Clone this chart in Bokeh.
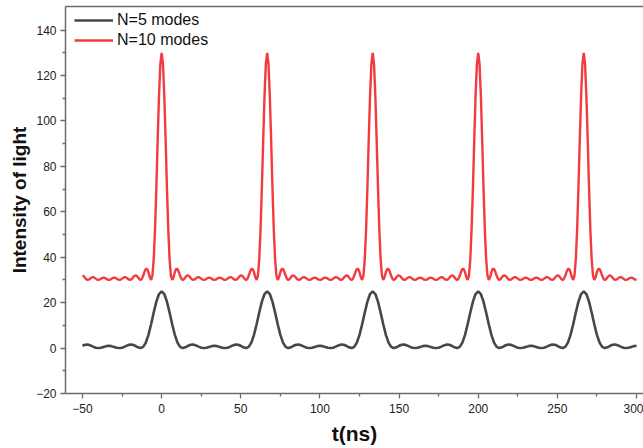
from bokeh.plotting import figure
from bokeh.models import Range1d, FixedTicker, Legend, LegendItem, LinearAxis
from bokeh.embed import file_html
from bokeh.resources import INLINE

# time axis for the N=5 curve (ns)
t5_ns = [
    -50, -48.33, -46.67, -45, -43.33, -41.67, -40, -38.33, -36.67, -35, -33.33, -31.67,
    -30, -28.33, -26.67, -25, -23.33, -21.67, -20, -18.33, -16.67, -15, -13.33, -11.67,
    -10, -8.33, -6.67, -5, -3.33, -1.67,
    0, 1.67, 3.33, 5, 6.67, 8.33, 10, 11.67, 13.33, 15, 16.67, 18.33, 20, 21.67, 23.33,
    25, 26.67, 28.33, 30, 31.67, 33.33, 35, 36.67, 38.33, 40, 41.67, 43.33, 45, 46.67, 48.33,
    50, 51.67, 53.33, 55, 56.67, 58.33, 60, 61.67, 63.33, 65,
    66.67, 68.33, 70, 71.67, 73.33, 75, 76.67, 78.33, 80, 81.67, 83.33, 85, 86.67, 88.33,
    90, 91.67, 93.33, 95, 96.67, 98.33, 100, 101.67, 103.33, 105, 106.67, 108.33, 110, 111.67,
    113.33, 115, 116.67, 118.33, 120, 121.67, 123.33, 125, 126.67, 128.33, 130, 131.67,
    133.33, 135, 136.67, 138.33, 140, 141.67, 143.33, 145, 146.67, 148.33, 150, 151.67,
    153.33, 155, 156.67, 158.33, 160, 161.67, 163.33, 165, 166.67, 168.33, 170, 171.67,
    173.33, 175, 176.67, 178.33, 180, 181.67, 183.33, 185, 186.67, 188.33, 190, 191.67,
    193.33, 195, 196.67, 198.33,
    200, 201.67, 203.33, 205, 206.67, 208.33, 210, 211.67, 213.33, 215, 216.67, 218.33,
    220, 221.67, 223.33, 225, 226.67, 228.33, 230, 231.67, 233.33, 235, 236.67, 238.33,
    240, 241.67, 243.33, 245, 246.67, 248.33, 250, 251.67, 253.33, 255, 256.67, 258.33,
    260, 261.67, 263.33, 265,
    266.67, 268.33, 270, 271.67, 273.33, 275, 276.67, 278.33, 280, 281.67, 283.33, 285,
    286.67, 288.33, 290, 291.67, 293.33, 295, 296.67, 298.33, 300,
]

# N = 5 modes intensity
n5_intensity = [
    1.0, 1.48, 1.53, 1.17, 0.63, 0.17, 0, 0.15, 0.51, 0.86, 1.0, 0.86, 0.51, 0.15, 0, 0.17,
    0.63, 1.17, 1.53, 1.48, 1.0, 0.35, 0, 0.54, 2.43, 5.83, 10.47, 15.66, 20.43, 23.79,
    25, 23.79, 20.43, 15.66, 10.47, 5.83, 2.43, 0.54, 0, 0.35, 1.0, 1.48, 1.53, 1.17, 0.63, 0.17,
    0, 0.15, 0.51, 0.86, 1.0, 0.86, 0.51, 0.15, 0, 0.17, 0.63, 1.17, 1.53, 1.48, 1.0, 0.35,
    0, 0.54, 2.43, 5.83, 10.47, 15.66, 20.43, 23.79,
    25, 23.79, 20.43, 15.66, 10.47, 5.83, 2.43, 0.54, 0, 0.35, 1.0, 1.48, 1.53, 1.17, 0.63, 0.17,
    0, 0.15, 0.51, 0.86, 1.0, 0.86, 0.51, 0.15, 0, 0.17, 0.63, 1.17, 1.53, 1.48, 1.0, 0.35,
    0, 0.54, 2.43, 5.83, 10.47, 15.66, 20.43, 23.79,
    25, 23.79, 20.43, 15.66, 10.47, 5.83, 2.43, 0.54, 0, 0.35, 1.0, 1.48, 1.53, 1.17, 0.63, 0.17,
    0, 0.15, 0.51, 0.86, 1.0, 0.86, 0.51, 0.15, 0, 0.17, 0.63, 1.17, 1.53, 1.48, 1.0, 0.35,
    0, 0.54, 2.43, 5.83, 10.47, 15.66, 20.43, 23.79,
    25, 23.79, 20.43, 15.66, 10.47, 5.83, 2.43, 0.54, 0, 0.35, 1.0, 1.48, 1.53, 1.17, 0.63, 0.17,
    0, 0.15, 0.51, 0.86, 1.0, 0.86, 0.51, 0.15, 0, 0.17, 0.63, 1.17, 1.53, 1.48, 1.0, 0.35,
    0, 0.54, 2.43, 5.83, 10.47, 15.66, 20.43, 23.79,
    25, 23.79, 20.43, 15.66, 10.47, 5.83, 2.43, 0.54, 0, 0.35, 1.0, 1.48, 1.53, 1.17, 0.63, 0.17,
    0, 0.15, 0.51, 0.86, 1.0,
]

# time axis for the N=10 curve (ns), finer sampling
t10_ns = [
    -50, -49.17, -48.33, -47.5, -46.67, -45.83, -45, -44.17, -43.33, -42.5, -41.67, -40.83,
    -40, -39.17, -38.33, -37.5, -36.67, -35.83, -35, -34.17, -33.33, -32.5, -31.67, -30.83,
    -30, -29.17, -28.33, -27.5, -26.67, -25.83, -25, -24.17, -23.33, -22.5, -21.67, -20.83,
    -20, -19.17, -18.33, -17.5, -16.67, -15.83, -15, -14.17, -13.33, -12.5, -11.67, -10.83,
    -10, -9.17, -8.33, -7.5, -6.67, -5.83, -5, -4.17, -3.33, -2.5, -1.67, -0.83,
    0, 0.83, 1.67, 2.5, 3.33, 4.17, 5, 5.83, 6.67, 7.5, 8.33, 9.17,
    10, 10.83, 11.67, 12.5, 13.33, 14.17, 15, 15.83, 16.67, 17.5, 18.33, 19.17,
    20, 20.83, 21.67, 22.5, 23.33, 24.17, 25, 25.83, 26.67, 27.5, 28.33, 29.17,
    30, 30.83, 31.67, 32.5, 33.33, 34.17, 35, 35.83, 36.67, 37.5, 38.33, 39.17,
    40, 40.83, 41.67, 42.5, 43.33, 44.17, 45, 45.83, 46.67, 47.5, 48.33, 49.17,
    50, 50.83, 51.67, 52.5, 53.33, 54.17, 55, 55.83, 56.67, 57.5, 58.33, 59.17,
    60, 60.83, 61.67, 62.5, 63.33, 64.17, 65, 65.83, 66.67, 67.5, 68.33, 69.17,
    70, 70.83, 71.67, 72.5, 73.33, 74.17, 75, 75.83, 76.67, 77.5, 78.33, 79.17,
    80, 80.83, 81.67, 82.5, 83.33, 84.17, 85, 85.83, 86.67, 87.5, 88.33, 89.17,
    90, 90.83, 91.67, 92.5, 93.33, 94.17, 95, 95.83, 96.67, 97.5, 98.33, 99.17,
    100, 100.83, 101.67, 102.5, 103.33, 104.17, 105, 105.83, 106.67, 107.5, 108.33, 109.17,
    110, 110.83, 111.67, 112.5, 113.33, 114.17, 115, 115.83, 116.67, 117.5, 118.33, 119.17,
    120, 120.83, 121.67, 122.5, 123.33, 124.17, 125, 125.83, 126.67, 127.5, 128.33, 129.17,
    130, 130.83, 131.67, 132.5, 133.33, 134.17, 135, 135.83, 136.67, 137.5, 138.33, 139.17,
    140, 140.83, 141.67, 142.5, 143.33, 144.17, 145, 145.83, 146.67, 147.5, 148.33, 149.17,
    150, 150.83, 151.67, 152.5, 153.33, 154.17, 155, 155.83, 156.67, 157.5, 158.33, 159.17,
    160, 160.83, 161.67, 162.5, 163.33, 164.17, 165, 165.83, 166.67, 167.5, 168.33, 169.17,
    170, 170.83, 171.67, 172.5, 173.33, 174.17, 175, 175.83, 176.67, 177.5, 178.33, 179.17,
    180, 180.83, 181.67, 182.5, 183.33, 184.17, 185, 185.83, 186.67, 187.5, 188.33, 189.17,
    190, 190.83, 191.67, 192.5, 193.33, 194.17, 195, 195.83, 196.67, 197.5, 198.33, 199.17,
    200, 200.83, 201.67, 202.5, 203.33, 204.17, 205, 205.83, 206.67, 207.5, 208.33, 209.17,
    210, 210.83, 211.67, 212.5, 213.33, 214.17, 215, 215.83, 216.67, 217.5, 218.33, 219.17,
    220, 220.83, 221.67, 222.5, 223.33, 224.17, 225, 225.83, 226.67, 227.5, 228.33, 229.17,
    230, 230.83, 231.67, 232.5, 233.33, 234.17, 235, 235.83, 236.67, 237.5, 238.33, 239.17,
    240, 240.83, 241.67, 242.5, 243.33, 244.17, 245, 245.83, 246.67, 247.5, 248.33, 249.17,
    250, 250.83, 251.67, 252.5, 253.33, 254.17, 255, 255.83, 256.67, 257.5, 258.33, 259.17,
    260, 260.83, 261.67, 262.5, 263.33, 264.17, 265, 265.83, 266.67, 267.5, 268.33, 269.17,
    270, 270.83, 271.67, 272.5, 273.33, 274.17, 275, 275.83, 276.67, 277.5, 278.33, 279.17,
    280, 280.83, 281.67, 282.5, 283.33, 284.17, 285, 285.83, 286.67, 287.5, 288.33, 289.17,
    290, 290.83, 291.67, 292.5, 293.33, 294.17, 295, 295.83, 296.67, 297.5, 298.33, 299.17,
    300,
]

# N = 10 modes intensity (curve drawn with a +30 offset)
n10_intensity = [
    32.0, 31.58, 30.86, 30.24, 30, 30.21, 30.69, 31.12, 31.26, 31.04, 30.59, 30.17, 30, 30.16,
    30.53, 30.89, 31.03, 30.87, 30.5, 30.15, 30,
    30.15, 30.5, 30.87, 31.03, 30.89, 30.53, 30.16, 30, 30.17, 30.59, 31.04, 31.26, 31.12, 30.69,
    30.21, 30, 30.24, 30.86, 31.58, 32.0, 31.85, 31.19, 30.38, 30, 30.47, 31.83, 33.58, 34.85,
    34.87, 33.41, 31.22, 30, 31.99, 39.17, 52.43, 70.86, 91.78, 111.22, 125.01,
    # peak 1
    130, 125.01, 111.22, 91.78, 70.86, 52.43, 39.17, 31.99, 30, 31.22, 33.41, 34.87, 34.85, 33.58,
    31.83, 30.47, 30, 30.38, 31.19, 31.85, 32.0, 31.58, 30.86, 30.24, 30, 30.21, 30.69, 31.12,
    31.26, 31.04, 30.59, 30.17, 30, 30.16, 30.53, 30.89, 31.03, 30.87, 30.5, 30.15, 30,
    30.15, 30.5, 30.87, 31.03, 30.89, 30.53, 30.16, 30, 30.17, 30.59, 31.04, 31.26, 31.12, 30.69,
    30.21, 30, 30.24, 30.86, 31.58, 32.0, 31.85, 31.19, 30.38, 30, 30.47, 31.83, 33.58, 34.85,
    34.87, 33.41, 31.22, 30, 31.99, 39.17, 52.43, 70.86, 91.78, 111.22, 125.01,
    # peak 2
    130, 125.01, 111.22, 91.78, 70.86, 52.43, 39.17, 31.99, 30, 31.22, 33.41, 34.87, 34.85, 33.58,
    31.83, 30.47, 30, 30.38, 31.19, 31.85, 32.0, 31.58, 30.86, 30.24, 30, 30.21, 30.69, 31.12,
    31.26, 31.04, 30.59, 30.17, 30, 30.16, 30.53, 30.89, 31.03, 30.87, 30.5, 30.15, 30,
    30.15, 30.5, 30.87, 31.03, 30.89, 30.53, 30.16, 30, 30.17, 30.59, 31.04, 31.26, 31.12, 30.69,
    30.21, 30, 30.24, 30.86, 31.58, 32.0, 31.85, 31.19, 30.38, 30, 30.47, 31.83, 33.58, 34.85,
    34.87, 33.41, 31.22, 30, 31.99, 39.17, 52.43, 70.86, 91.78, 111.22, 125.01,
    # peak 3
    130, 125.01, 111.22, 91.78, 70.86, 52.43, 39.17, 31.99, 30, 31.22, 33.41, 34.87, 34.85, 33.58,
    31.83, 30.47, 30, 30.38, 31.19, 31.85, 32.0, 31.58, 30.86, 30.24, 30, 30.21, 30.69, 31.12,
    31.26, 31.04, 30.59, 30.17, 30, 30.16, 30.53, 30.89, 31.03, 30.87, 30.5, 30.15, 30,
    30.15, 30.5, 30.87, 31.03, 30.89, 30.53, 30.16, 30, 30.17, 30.59, 31.04, 31.26, 31.12, 30.69,
    30.21, 30, 30.24, 30.86, 31.58, 32.0, 31.85, 31.19, 30.38, 30, 30.47, 31.83, 33.58, 34.85,
    34.87, 33.41, 31.22, 30, 31.99, 39.17, 52.43, 70.86, 91.78, 111.22, 125.01,
    # peak 4
    130, 125.01, 111.22, 91.78, 70.86, 52.43, 39.17, 31.99, 30, 31.22, 33.41, 34.87, 34.85, 33.58,
    31.83, 30.47, 30, 30.38, 31.19, 31.85, 32.0, 31.58, 30.86, 30.24, 30, 30.21, 30.69, 31.12,
    31.26, 31.04, 30.59, 30.17, 30, 30.16, 30.53, 30.89, 31.03, 30.87, 30.5, 30.15, 30,
    30.15, 30.5, 30.87, 31.03, 30.89, 30.53, 30.16, 30, 30.17, 30.59, 31.04, 31.26, 31.12, 30.69,
    30.21, 30, 30.24, 30.86, 31.58, 32.0, 31.85, 31.19, 30.38, 30, 30.47, 31.83, 33.58, 34.85,
    34.87, 33.41, 31.22, 30, 31.99, 39.17, 52.43, 70.86, 91.78, 111.22, 125.01,
    # peak 5
    130, 125.01, 111.22, 91.78, 70.86, 52.43, 39.17, 31.99, 30, 31.22, 33.41, 34.87, 34.85, 33.58,
    31.83, 30.47, 30, 30.38, 31.19, 31.85, 32.0, 31.58, 30.86, 30.24, 30, 30.21, 30.69, 31.12,
    31.26, 31.04, 30.59, 30.17, 30, 30.16, 30.53, 30.89, 31.03, 30.87, 30.5, 30.15, 30,
]

series_labels = ["N=5 modes", "N=10 modes"]
x_ticks = [-50, 0, 50, 100, 150, 200, 250, 300]
x_minor = [-25, 25, 75, 125, 175, 225, 275]
y_ticks = [-20, 0, 20, 40, 60, 80, 100, 120, 140]
y_minor = [-10, 10, 30, 50, 70, 90, 110, 130]

FONT = "Liberation Sans"
AX = "#6b6b6b"

p = figure(width=643, height=448, output_backend="svg", toolbar_location=None,
           x_range=Range1d(-60.74, 304.42), y_range=Range1d(-20, 150.4),
           min_border_left=65, min_border_right=0, min_border_top=6, min_border_bottom=55)
p.grid.visible = False
p.outline_line_color = None
p.background_fill_color = "white"
p.border_fill_color = "white"

r5 = p.line(t5_ns, n5_intensity, line_color="#474747", line_width=2.6)
r10 = p.line(t10_ns, n10_intensity, line_color="#f23a3f", line_width=2.4)

bottom = p.below[0]
left = p.left[0]

for ax, ticks, minor in ((bottom, x_ticks, x_minor), (left, y_ticks, y_minor)):
    ax.ticker = FixedTicker(ticks=ticks, minor_ticks=minor)
    ax.axis_line_color = AX
    ax.axis_line_width = 1.5
    ax.major_tick_line_color = AX
    ax.minor_tick_line_color = AX
    ax.major_tick_line_width = 1.3
    ax.minor_tick_line_width = 1.3
    ax.major_tick_out = 5
    ax.major_tick_in = 0
    ax.minor_tick_out = 3
    ax.minor_tick_in = 0
    ax.major_label_text_font = FONT
    ax.major_label_text_font_size = "12px"
    ax.major_label_text_color = "#222222"
    ax.axis_label_text_font = FONT
    ax.axis_label_text_font_style = "bold"
    ax.axis_label_text_color = "#111111"

bottom.axis_label = "t(ns)"
bottom.axis_label_text_font_size = "21px"
bottom.major_label_standoff = 5
bottom.axis_label_standoff = 6
left.axis_label = "Intensity of light"
left.axis_label_text_font_size = "19px"
left.major_label_standoff = 4
left.axis_label_standoff = 3

# top frame border (no right border visible in the reference)
top_axis = LinearAxis(ticker=FixedTicker(ticks=[], minor_ticks=[]),
                      axis_line_color=AX, axis_line_width=1.5,
                      major_tick_out=0, major_tick_in=0, minor_tick_out=0, minor_tick_in=0,
                      major_label_text_font_size="0px", major_label_standoff=0)
p.add_layout(top_axis, "above")

legend = Legend(items=[LegendItem(label=series_labels[0], renderers=[r5]),
                       LegendItem(label=series_labels[1], renderers=[r10])],
                location=(9, 343), orientation="vertical")
legend.background_fill_alpha = 0
legend.border_line_color = None
legend.padding = 0
legend.margin = 0
legend.spacing = 0
legend.glyph_width = 39
legend.glyph_height = 20
legend.label_height = 20
legend.label_standoff = 4
legend.label_text_font = FONT
legend.label_text_font_size = "16px"
legend.label_text_color = "#111111"
p.add_layout(legend)

open("out.html", "w").write(file_html(p, INLINE))
